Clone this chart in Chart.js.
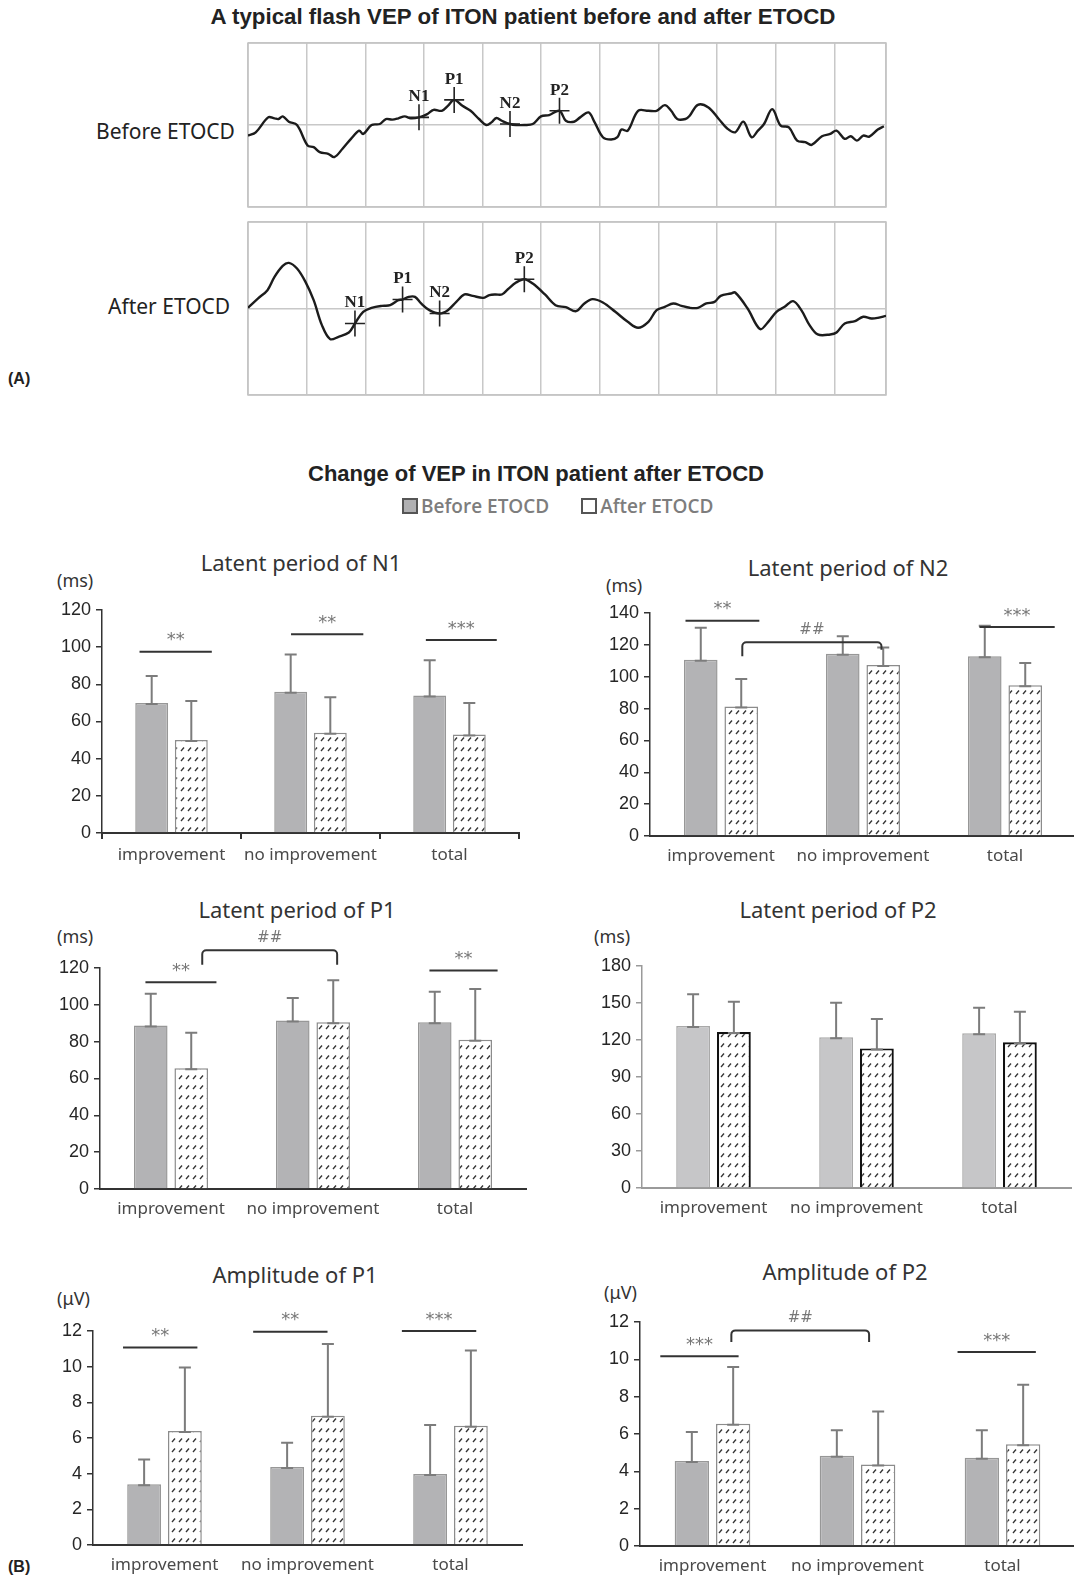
<!DOCTYPE html>
<html>
<head>
<meta charset="utf-8">
<script src="https://cdn.jsdelivr.net/npm/chart.js@4.4.0/dist/chart.umd.min.js"></script>
<style>
  html, body { margin: 0; padding: 0; background: #fff; }
  body { position: relative; width: 1074px; height: 1579px; overflow: hidden; }
  canvas { position: absolute; }
  .t { position: absolute; line-height: 1; white-space: nowrap; }
  .c { transform: translate(-50%, -50%); }
  .l { transform: translate(0, -50%); }
  .sq { display: inline-block; width: 12px; height: 12px; border: 2px solid #555; vertical-align: -1px; margin-right: 3px; }
</style>
</head>
<body>

<div class="t c" style="left:523px;top:17px;font:bold 22.3px 'Liberation Sans',Arial,sans-serif;color:#222">A typical flash VEP of ITON patient before and after ETOCD</div>
<div class="t l" style="left:96px;top:131px;font:21px 'Noto Sans',sans-serif;color:#222">Before ETOCD</div>
<div class="t l" style="left:108px;top:306px;font:21px 'Noto Sans',sans-serif;color:#222">After ETOCD</div>
<div class="t l" style="left:8px;top:379px;font:bold 16px 'Liberation Sans',Arial,sans-serif;color:#222">(A)</div>

<div class="t c" style="left:536px;top:474px;font:bold 22px 'Liberation Sans',Arial,sans-serif;color:#222">Change of VEP in ITON patient after ETOCD</div>
<div class="t l" style="left:402px;top:506px;font:600 19px 'Open Sans',sans-serif;color:#7d7d7d">
  <span class="sq" style="background:#b0b0b2"></span>Before ETOCD
  <span style="display:inline-block;width:22px"></span>
  <span class="sq" style="background:#fff"></span>After ETOCD
</div>

<div class="t c" style="left:301px;top:562px;font:22px 'Noto Sans',sans-serif;color:#333">Latent period of N1</div>
<div class="t l" style="left:57px;top:580px;font:18px 'Noto Sans',sans-serif;color:#333">(ms)</div>
<div class="t c" style="left:848px;top:567px;font:22px 'Noto Sans',sans-serif;color:#333">Latent period of N2</div>
<div class="t l" style="left:606px;top:585px;font:18px 'Noto Sans',sans-serif;color:#333">(ms)</div>
<div class="t c" style="left:297px;top:909px;font:22px 'Noto Sans',sans-serif;color:#333">Latent period of P1</div>
<div class="t l" style="left:57px;top:936px;font:18px 'Noto Sans',sans-serif;color:#333">(ms)</div>
<div class="t c" style="left:838px;top:909px;font:22px 'Noto Sans',sans-serif;color:#333">Latent period of P2</div>
<div class="t l" style="left:594px;top:936px;font:18px 'Noto Sans',sans-serif;color:#333">(ms)</div>
<div class="t c" style="left:295px;top:1274px;font:22px 'Noto Sans',sans-serif;color:#333">Amplitude of P1</div>
<div class="t l" style="left:57px;top:1298px;font:18px 'Noto Sans',sans-serif;color:#333">(μV)</div>
<div class="t c" style="left:845px;top:1271px;font:22px 'Noto Sans',sans-serif;color:#333">Amplitude of P2</div>
<div class="t l" style="left:604px;top:1292px;font:18px 'Noto Sans',sans-serif;color:#333">(μV)</div>
<div class="t l" style="left:8px;top:1567px;font:bold 16px 'Liberation Sans',Arial,sans-serif;color:#222">(B)</div>

<canvas id="vepBefore"></canvas>
<canvas id="vepAfter"></canvas>
<canvas id="n1"></canvas>
<canvas id="n2"></canvas>
<canvas id="p1"></canvas>
<canvas id="p2"></canvas>
<canvas id="ampP1"></canvas>
<canvas id="ampP2"></canvas>

<script>
// ---------- (A) flash VEP traces: time (ms) and amplitude (arbitrary units) ----------
const beforeTime = [0, 3.3, 8.6, 11.3, 13.0, 14.8, 17.4, 20.9, 25.4, 28.0, 30.6, 34.2, 36.8, 40.3, 43.9, 47.4,
  49.1, 52.7, 56.2, 58.8, 61.5, 64.1, 66.8, 69.4, 72.9, 76.4, 79.1, 82.6, 85.2, 87.9, 91.4, 94.9,
  98.5, 101.6, 103.8, 105.9, 108.2, 111.7, 114.3, 117.8, 121.4, 124.9, 128.4, 132.8, 135.5, 139.0, 141.6, 145.2,
  147.8, 151.3, 154.8, 157.5, 159.2, 161.9, 166.3, 170.7, 174.2, 177.7, 180.4, 183.0, 186.5, 188.3, 191.8, 196.3,
  200.7, 204.2, 207.7, 211.2, 214.7, 217.4, 220.0, 223.5, 227.1, 230.6, 234.1, 237.6, 240.3, 244.7, 248.2, 250.9,
  254.4, 257.0, 259.6, 262.3, 264.9, 268.5, 271.1];
const beforeAmp = [-1.29, -0.89, 0.93, 0.81, 0.73, 1.05, 0.40, 0, -2.50, -2.70, -3.31, -3.51, -3.91, -2.90, -1.69, -0.69,
  -1.09, 0, 0.12, 0.73, 0.65, 0.81, 1.05, 0.81, 0.93, 1.33, 1.85, 1.73, 2.34, 3.06, 2.34, 1.73,
  0.73, 0, 0.32, 0.85, 0.52, 0.12, 0, 0, 0.12, 1.05, 1.21, 1.73, 0.52, 0.40, 0.93, 1.53,
  0.32, -1.49, -1.77, -1.49, -0.56, -0.69, 1.73, 1.73, 1.73, 2.42, 1.73, 0.73, 0.73, 1.13, 2.46, 2.14,
  0.73, -0.40, -0.89, 0.40, -1.49, -0.69, 0.12, 1.94, -0.08, -0.28, -1.90, -2.10, -2.42, -1.37, -1.09, -0.69,
  -1.69, -1.37, -1.90, -1.29, -1.41, -0.56, -0.16];
const afterTime = [0, 4.2, 8.3, 11.3, 14.8, 17.4, 20.9, 24.5, 28.0, 31.5, 35.0, 38.6, 43.0, 45.6, 49.1, 52.7,
  57.1, 60.6, 64.1, 65.9, 68.5, 71.2, 73.8, 77.3, 81.7, 85.2, 88.8, 92.3, 95.8, 100.2, 102.9, 105.5,
  108.2, 110.8, 114.3, 117.8, 121.4, 126.6, 131.1, 135.5, 139.9, 143.4, 146.9, 151.3, 156.6, 161.9, 166.3, 170.7,
  174.2, 177.7, 181.3, 184.8, 188.3, 191.8, 195.4, 198.9, 201.5, 205.9, 207.7, 213.0, 218.3, 221.8, 225.3, 228.8,
  232.4, 235.9, 239.4, 242.9, 248.2, 250.9, 254.4, 258.8, 262.3, 265.8, 268.5, 272.0];
const afterAmp = [0.08, 1.15, 2.12, 3.65, 4.92, 5.27, 4.62, 3.08, 0.96, -1.92, -3.54, -3.27, -2.77, -1.73, -0.38, 0.08,
  0.31, 0.38, 0.96, 1.04, 1.35, 1.35, 0.58, -0.19, -0.58, -0.19, 0.77, 1.62, 1.46, 1.23, 1.54, 1.62,
  1.62, 2.23, 3.00, 3.38, 2.88, 1.62, 0.38, 0.15, -0.31, 0.58, 1.08, 0.69, -0.38, -1.54, -2.23, -1.54,
  -0.19, 0.19, 0.58, 0.31, 0.08, 0.08, 0.58, 0.77, 1.46, 1.73, 1.85, 0, -2.38, -1.54, -0.38, 0.19,
  0.85, -0.19, -1.92, -3.00, -3.00, -2.77, -1.73, -1.46, -0.96, -1.15, -1.08, -0.85];

const peakNames = ['N1', 'P1', 'N2', 'P2'];
const beforePeakTime = [72.9, 87.9, 111.7, 132.8];
const beforePeakAmp = [0.93, 3.06, 0.12, 1.73];
const afterPeakTime = [45.6, 65.9, 81.7, 117.8];
const afterPeakAmp = [-1.73, 1.04, -0.58, 3.38];

// ---------- (B) group means and SD ----------
const groups = ['improvement', 'no improvement', 'total'];

const n1Before = [70, 76, 74];
const n1BeforeSd = [14.5, 20, 19];
const n1After = [50, 54, 53];
const n1AfterSd = [21, 19, 17];

const n2Before = [110.7, 114.4, 112.8];
const n2BeforeSd = [20, 11, 19.2];
const n2After = [81.3, 107.3, 94.7];
const n2AfterSd = [17.2, 11.1, 13.9];

const p1Before = [88.8, 91.5, 90.6];
const p1BeforeSd = [17.2, 12.2, 16.5];
const p1After = [65.6, 90.6, 81];
const p1AfterSd = [19.2, 22.7, 27.6];

const p2Before = [131.4, 122.2, 125.4];
const p2BeforeSd = [25.6, 28.1, 20.8];
const p2After = [126.5, 113.2, 118.1];
const p2AfterSd = [24.5, 23.8, 24.9];

const ampP1Before = [3.40, 4.37, 3.98];
const ampP1BeforeSd = [1.40, 1.37, 2.75];
const ampP1After = [6.39, 7.25, 6.69];
const ampP1AfterSd = [3.57, 4.02, 4.21];

const ampP2Before = [4.55, 4.84, 4.73];
const ampP2BeforeSd = [1.56, 1.36, 1.47];
const ampP2After = [6.55, 4.36, 5.45];
const ampP2AfterSd = [3.04, 2.85, 3.19];

// significance marks: x0/x1 in category units, y in data units (drops for ## brackets)
const n1Sig = [
  { x0: -0.23, x1: 0.29, y: 97.6, text: '**' },
  { x0: 0.86, x1: 1.38, y: 107, text: '**' },
  { x0: 1.83, x1: 2.34, y: 103.9, text: '***' }
];
const n2Sig = [
  { x0: -0.25, x1: 0.27, y: 135.2, text: '**' },
  { x0: 0.15, x1: 1.13, y: 121.6, y0: 112.8, y1: 117, text: '##' },
  { x0: 1.82, x1: 2.35, y: 131.2, text: '***' }
];
const p1Sig = [
  { x0: -0.18, x1: 0.32, y: 112.2, text: '**' },
  { x0: 0.22, x1: 1.17, y: 129.6, y0: 121.8, y1: 121.8, text: '##' },
  { x0: 1.82, x1: 2.30, y: 118.7, text: '**' }
];
const p2Sig = [];
const ampP1Sig = [
  { x0: -0.29, x1: 0.23, y: 11.07, text: '**' },
  { x0: 0.62, x1: 1.14, y: 11.96, text: '**' },
  { x0: 1.66, x1: 2.18, y: 12.0, text: '***' }
];
const ampP2Sig = [
  { x0: -0.36, x1: 0.18, y: 10.16, text: '***' },
  { x0: 0.13, x1: 1.08, y: 11.55, y0: 10.93, y1: 10.93, text: '##' },
  { x0: 1.69, x1: 2.23, y: 10.39, text: '***' }
];

// ---------- helpers ----------
function place(canvas, left, top, width, height) {
  canvas.width = width;
  canvas.height = height;
  canvas.style.left = left + 'px';
  canvas.style.top = top + 'px';
  canvas.style.width = width + 'px';
  canvas.style.height = height + 'px';
}

// short "////" dashes in rows, like the after-treatment bars
function hatchPattern() {
  const c = document.createElement('canvas');
  c.width = 7;
  c.height = 10;
  const g = c.getContext('2d');
  g.fillStyle = '#fff';
  g.fillRect(0, 0, 7, 10);
  g.strokeStyle = '#333';
  g.lineWidth = 1.3;
  g.beginPath();
  g.moveTo(2, 7);
  g.lineTo(5, 3.5);
  g.stroke();
  return g.createPattern(c, 'repeat');
}

// frame around the VEP grid
const framePlugin = {
  id: 'frame',
  beforeDatasetsDraw(chart) {
    const a = chart.chartArea, ctx = chart.ctx;
    ctx.save();
    ctx.strokeStyle = '#c4c4c4';
    ctx.lineWidth = 1.5;
    ctx.strokeRect(a.left, a.top, a.right - a.left, a.bottom - a.top);
    ctx.restore();
  }
};

function peakPlugin(times, amps) {
  return {
    id: 'peaks',
    afterDatasetsDraw(chart) {
      const ctx = chart.ctx, xs = chart.scales.x, ys = chart.scales.y;
      ctx.save();
      ctx.strokeStyle = '#222';
      ctx.lineWidth = 1.6;
      ctx.fillStyle = '#222';
      ctx.font = "bold 17px 'Liberation Serif', 'Times New Roman', serif";
      ctx.textAlign = 'center';
      ctx.textBaseline = 'bottom';
      peakNames.forEach((name, i) => {
        const px = xs.getPixelForValue(times[i]);
        const py = ys.getPixelForValue(amps[i]);
        ctx.beginPath();
        ctx.moveTo(px, py - 13); ctx.lineTo(px, py + 13);
        ctx.moveTo(px - 10, py); ctx.lineTo(px + 10, py);
        ctx.stroke();
        ctx.fillText(name, px, py - 12);
      });
      ctx.restore();
    }
  };
}

function vepChart(id, left, top, width, height, times, amps, pTimes, pAmps) {
  const canvas = document.getElementById(id);
  place(canvas, left - 2, top - 2, width + 4, height + 4);
  const gridOpts = { color: '#c8c8c8', lineWidth: 1.5, drawTicks: false };
  return new Chart(canvas, {
    type: 'line',
    data: {
      datasets: [{
        data: times.map((t, i) => ({ x: t, y: amps[i] })),
        borderColor: '#1c1c1c',
        borderWidth: 2.4,
        pointRadius: 0,
        tension: 0.35,
        fill: false
      }]
    },
    options: {
      responsive: false,
      animation: false,
      layout: { padding: 2 },
      plugins: { legend: { display: false }, tooltip: { enabled: false } },
      scales: {
        x: {
          type: 'linear', min: 0, max: 272,
          ticks: { display: false, stepSize: 25 },
          grid: gridOpts,
          border: { display: false },
          afterFit: s => { s.height = 0; }
        },
        y: {
          min: -10, max: 10,
          ticks: { display: false, stepSize: 10 },
          grid: gridOpts,
          border: { display: false },
          afterFit: s => { s.width = 0; }
        }
      }
    },
    plugins: [framePlugin, peakPlugin(pTimes, pAmps)]
  });
}

const errorBarPlugin = {
  id: 'errorBars',
  afterDatasetsDraw(chart) {
    const ctx = chart.ctx, ys = chart.scales.y;
    ctx.save();
    ctx.strokeStyle = '#7c7c7c';
    ctx.lineWidth = 2;
    chart.data.datasets.forEach((ds, di) => {
      chart.getDatasetMeta(di).data.forEach((bar, i) => {
        const top = ys.getPixelForValue(ds.data[i] + ds.sd[i]);
        ctx.beginPath();
        ctx.moveTo(bar.x, bar.y);
        ctx.lineTo(bar.x, top);
        ctx.moveTo(bar.x - 6, top); ctx.lineTo(bar.x + 6, top);
        ctx.moveTo(bar.x - 6, bar.y + 1); ctx.lineTo(bar.x + 6, bar.y + 1);
        ctx.stroke();
      });
    });
    ctx.restore();
  }
};

function sigPlugin(marks) {
  return {
    id: 'sig',
    afterDraw(chart) {
      const ctx = chart.ctx, xs = chart.scales.x, ys = chart.scales.y;
      ctx.save();
      ctx.lineWidth = 2;
      ctx.strokeStyle = '#333';
      marks.forEach(m => {
        const a = xs.getPixelForValue(m.x0), b = xs.getPixelForValue(m.x1);
        const y = ys.getPixelForValue(m.y);
        ctx.beginPath();
        if (m.y0 !== undefined) {
          const ya = ys.getPixelForValue(m.y0), yb = ys.getPixelForValue(m.y1);
          ctx.moveTo(a, ya);
          ctx.arcTo(a, y, a + 5, y, 4);
          ctx.arcTo(b, y, b, y + 5, 4);
          ctx.lineTo(b, yb);
        } else {
          ctx.moveTo(a, y);
          ctx.lineTo(b, y);
        }
        ctx.stroke();
        ctx.fillStyle = '#777';
        ctx.textAlign = 'center';
        ctx.textBaseline = 'bottom';
        ctx.font = m.text === '##' ? "15px 'DejaVu Sans', sans-serif" : "18px 'DejaVu Sans', sans-serif";
        ctx.fillText(m.text, (a + b) / 2, m.text === '##' ? y - 5 : y - 2);
      });
      ctx.restore();
    }
  };
}

const hatch = hatchPattern();

function barChart(id, box, before, beforeSd, after, afterSd, marks) {
  const canvas = document.getElementById(id);
  const yW = 70, padTop = 56, xH = 44;
  place(canvas, box.axisX - yW, box.topY - padTop, yW + Math.round(3 * box.catW) + 2,
    padTop + (box.bottomY - box.topY) + xH);
  const axisColor = box.light ? '#9a9a9a' : '#333';
  return new Chart(canvas, {
    type: 'bar',
    data: {
      labels: groups,
      datasets: [
        {
          label: 'Before ETOCD',
          data: before, sd: beforeSd,
          backgroundColor: box.light ? '#c6c6c8' : '#b3b3b5',
          borderColor: box.light ? '#a9a9a9' : '#979797',
          borderWidth: 1.5,
          barPercentage: 0.83, categoryPercentage: 0.57
        },
        {
          label: 'After ETOCD',
          data: after, sd: afterSd,
          backgroundColor: hatch,
          borderColor: box.light ? '#111' : '#8c8c8c',
          borderWidth: box.light ? 2.2 : 1.5,
          barPercentage: 0.83, categoryPercentage: 0.57
        }
      ]
    },
    options: {
      responsive: false,
      animation: false,
      layout: { padding: { top: padTop, right: 2, left: 0, bottom: 0 } },
      plugins: { legend: { display: false }, tooltip: { enabled: false } },
      scales: {
        x: {
          grid: {
            display: !!box.xTicks, offset: true, drawOnChartArea: false,
            drawTicks: !!box.xTicks, tickLength: 6, color: axisColor, lineWidth: 2
          },
          border: { display: true, color: axisColor, width: 2 },
          ticks: {
            padding: box.xTicks ? 6 : 10,
            color: '#4a4a4a',
            font: { family: "'Noto Sans', sans-serif", size: 17 }
          },
          afterFit: s => { s.height = xH; }
        },
        y: {
          min: 0, max: box.max,
          ticks: {
            stepSize: box.step, padding: 5, color: '#262626',
            font: { family: "'Liberation Sans', Arial, sans-serif", size: 18 }
          },
          grid: { drawOnChartArea: false, tickLength: 6, color: axisColor, lineWidth: 1.5 },
          border: { display: true, color: axisColor, width: 1.5 },
          afterFit: s => { s.width = yW; }
        }
      }
    },
    plugins: [errorBarPlugin, sigPlugin(marks)]
  });
}

vepChart('vepBefore', 248, 43, 638, 164, beforeTime, beforeAmp, beforePeakTime, beforePeakAmp);
vepChart('vepAfter', 248, 222, 638, 173, afterTime, afterAmp, afterPeakTime, afterPeakAmp);

barChart('n1', { axisX: 102, topY: 610, bottomY: 833, catW: 139, max: 120, step: 20, xTicks: true },
  n1Before, n1BeforeSd, n1After, n1AfterSd, n1Sig);
barChart('n2', { axisX: 650, topY: 613, bottomY: 836, catW: 142, max: 140, step: 20 },
  n2Before, n2BeforeSd, n2After, n2AfterSd, n2Sig);
barChart('p1', { axisX: 100, topY: 968, bottomY: 1189, catW: 142, max: 120, step: 20 },
  p1Before, p1BeforeSd, p1After, p1AfterSd, p1Sig);
barChart('p2', { axisX: 642, topY: 966, bottomY: 1188, catW: 143, max: 180, step: 30, light: true },
  p2Before, p2BeforeSd, p2After, p2AfterSd, p2Sig);
barChart('ampP1', { axisX: 93, topY: 1331, bottomY: 1545, catW: 143, max: 12, step: 2 },
  ampP1Before, ampP1BeforeSd, ampP1After, ampP1AfterSd, ampP1Sig);
barChart('ampP2', { axisX: 640, topY: 1322, bottomY: 1546, catW: 145, max: 12, step: 2 },
  ampP2Before, ampP2BeforeSd, ampP2After, ampP2AfterSd, ampP2Sig);
</script>
</body>
</html>
